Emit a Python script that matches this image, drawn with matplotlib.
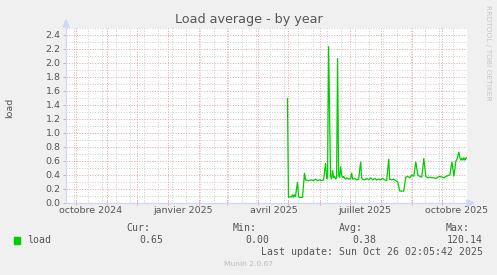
import matplotlib
matplotlib.use("Agg")
import matplotlib.pyplot as plt
import matplotlib.dates as mdates
from matplotlib.patches import Polygon, Rectangle
import pandas as pd

# ---------------- data ----------------
dates = [
    "2025-04-30", "2025-05-01", "2025-05-04", "2025-05-05", "2025-05-06", "2025-05-07",
    "2025-05-08", "2025-05-10", "2025-05-11", "2025-05-12", "2025-05-15", "2025-05-17",
    "2025-05-18", "2025-05-21", "2025-05-24", "2025-05-26", "2025-05-28", "2025-05-30",
    "2025-06-01", "2025-06-03", "2025-06-05", "2025-06-07", "2025-06-08", "2025-06-09",
    "2025-06-10", "2025-06-12", "2025-06-13", "2025-06-14", "2025-06-15", "2025-06-16",
    "2025-06-17", "2025-06-18", "2025-06-19", "2025-06-20", "2025-06-21", "2025-06-22",
    "2025-06-23", "2025-06-24", "2025-06-25", "2025-06-26", "2025-06-27", "2025-06-28",
    "2025-06-30", "2025-07-02", "2025-07-03", "2025-07-04", "2025-07-06", "2025-07-08",
    "2025-07-10", "2025-07-12", "2025-07-13", "2025-07-14", "2025-07-16", "2025-07-18",
    "2025-07-20", "2025-07-22", "2025-07-24", "2025-07-26", "2025-07-28", "2025-07-30",
    "2025-08-01", "2025-08-03", "2025-08-05", "2025-08-07", "2025-08-09", "2025-08-10",
    "2025-08-12", "2025-08-14", "2025-08-16", "2025-08-18", "2025-08-20", "2025-08-24",
    "2025-08-26", "2025-08-28", "2025-08-30", "2025-09-01", "2025-09-03", "2025-09-05",
    "2025-09-07", "2025-09-09", "2025-09-11", "2025-09-13", "2025-09-15", "2025-09-17",
    "2025-09-19", "2025-09-21", "2025-09-23", "2025-09-25", "2025-09-27", "2025-09-29",
    "2025-10-01", "2025-10-03", "2025-10-05", "2025-10-07", "2025-10-09", "2025-10-11",
    "2025-10-13", "2025-10-15", "2025-10-16", "2025-10-18", "2025-10-19", "2025-10-20",
    "2025-10-21", "2025-10-22", "2025-10-23", "2025-10-24", "2025-10-25", "2025-10-26",
]
load_values = [
    1.49, 0.08, 0.09, 0.12, 0.08, 0.12,
    0.09, 0.30, 0.10, 0.08, 0.08, 0.43,
    0.33, 0.32, 0.33, 0.32, 0.34, 0.32,
    0.33, 0.32, 0.33, 0.57, 0.35, 0.36,
    2.24, 0.38, 0.34, 0.47, 0.36, 0.38,
    0.34, 0.36, 2.07, 0.40, 0.36, 0.52,
    0.40, 0.36, 0.38, 0.36, 0.34, 0.36,
    0.34, 0.35, 0.43, 0.34, 0.35, 0.33,
    0.34, 0.59, 0.36, 0.34, 0.33, 0.35,
    0.33, 0.36, 0.33, 0.35, 0.33, 0.34,
    0.33, 0.35, 0.33, 0.32, 0.63, 0.34,
    0.33, 0.34, 0.32, 0.30, 0.17, 0.17,
    0.37, 0.38, 0.36, 0.40, 0.38, 0.59,
    0.40, 0.38, 0.37, 0.64, 0.38, 0.36,
    0.37, 0.36, 0.36, 0.35, 0.37, 0.38,
    0.37, 0.36, 0.38, 0.39, 0.40, 0.59,
    0.38, 0.60, 0.62, 0.73, 0.64, 0.61,
    0.64, 0.61, 0.65, 0.61, 0.64, 0.65,
]
x_labels = ["octobre 2024", "janvier 2025", "avril 2025", "juillet 2025", "octobre 2025"]
x_label_dates = ["2024-10-16", "2025-01-16", "2025-04-16", "2025-07-16", "2025-10-16"]
y_ticks = [0.0, 0.2, 0.4, 0.6, 0.8, 1.0, 1.2, 1.4, 1.6, 1.8, 2.0, 2.2, 2.4]
series_name = "load"
stat_names = ["Cur:", "Min:", "Avg:", "Max:"]
stat_values = ["0.65", "0.00", "0.38", "120.14"]
title = "Load average - by year"
last_update = "Last update: Sun Oct 26 02:05:42 2025"

# ---------------- figure ----------------
W, H = 497, 275
BG = "#F0F0F0"
TXT = "#555555"
GREEN = "#00CC00"
MGRID = "#E2A8A8"
GRID = "#CFCFCF"
AXC = "#CFD6F8"

fig = plt.figure(figsize=(W / 100, H / 100), dpi=100, facecolor=BG)

L, R, T, B = 66, 467, 28, 203
ax = fig.add_axes([L / W, 1 - B / H, (R - L) / W, (B - T) / H])
ax.set_facecolor("white")

def fx(x):
    return x / W

def fy(y):
    return 1 - y / H

x_start = pd.Timestamp("2024-09-21 02:05")
x_end = pd.Timestamp("2025-10-26 02:05")
ax.set_xlim(x_start, x_end)
ax.set_ylim(0, 2.5)

# grid lines (dotted)
dot = (0, (1, 1.6))
gkw = dict(lw=0.72, ls=dot)
for d in pd.date_range("2024-09-29", "2025-10-26", freq="14D"):
    ax.axvline(d, color=GRID, zorder=1, **gkw)
for v in [0.1 + 0.2 * i for i in range(13)]:
    ax.axhline(v, color=GRID, zorder=1, **gkw)
for d in pd.date_range("2024-10-01", "2025-10-01", freq="MS"):
    ax.axvline(d, color=MGRID, zorder=2, **gkw)
for v in y_ticks[1:]:
    ax.axhline(v, color=MGRID, zorder=2, **gkw)

# data
ax.plot(pd.to_datetime(dates), load_values, color=GREEN, lw=0.9, zorder=5,
        solid_joinstyle="miter")

# ticks
ax.set_xticks(pd.date_range("2024-10-01", "2025-10-01", freq="MS"))
ax.set_xticklabels([])
ax.tick_params(axis="x", which="major", length=2.5, width=0.72, color=MGRID, direction="inout")
ax.set_xticks(pd.to_datetime(x_label_dates), minor=True)
ax.set_xticklabels(x_labels, minor=True)
ax.tick_params(axis="x", which="minor", length=0, pad=2.5, labelsize=6.8, labelcolor=TXT)

ax.set_yticks(y_ticks)
ax.set_yticklabels([f"{v:.1f}" for v in y_ticks])
ax.tick_params(axis="y", which="major", length=2.5, width=0.72, color=MGRID, direction="out",
               pad=1.5, labelsize=6.8, labelcolor=TXT)

for s in ["top", "right"]:
    ax.spines[s].set_visible(False)
for s in ["left", "bottom"]:
    ax.spines[s].set_color(AXC)
    ax.spines[s].set_linewidth(0.9)
    ax.spines[s].set_zorder(6)

# axis extensions and arrows
fig.add_artist(plt.Line2D([fx(66), fx(66)], [fy(28), fy(24)], color=AXC, lw=0.9))
fig.add_artist(plt.Line2D([fx(467), fx(469)], [fy(203), fy(203)], color=AXC, lw=0.9))
fig.add_artist(Polygon([[fx(63), fy(27)], [fx(69), fy(27)], [fx(66), fy(20)]],
                       closed=True, color=AXC, transform=fig.transFigure))
fig.add_artist(Polygon([[fx(467), fy(200)], [fx(467), fy(206)], [fx(474), fy(203)]],
                       closed=True, color=AXC, transform=fig.transFigure))

# texts
fig.text(fx(249), fy(20), title, ha="center", va="center", fontsize=9.2, color=TXT)
fig.text(fx(10), fy(108), "load", rotation=90, ha="center", va="center", fontsize=6.8, color=TXT)
fig.text(fx(488), fy(53), "RRDTOOL / TOBI OETIKER", rotation=270, ha="center", va="center",
         fontsize=5.4, color="#C8C8C8")

mono = "DejaVu Sans Mono"
fig.add_artist(Rectangle((fx(13.5), fy(243.5)), 6.5 / W, 6.5 / H, color=GREEN,
                         transform=fig.transFigure))
fig.text(fx(27), fy(240), series_name, ha="left", va="center", fontsize=7.1, color=TXT, family=mono)
name_right = [150, 257, 363, 470]
val_right = [163, 269, 376, 483]
for n, v, xn, xv in zip(stat_names, stat_values, name_right, val_right):
    fig.text(fx(xn), fy(228), n, ha="right", va="center", fontsize=7.1, color=TXT, family=mono)
    fig.text(fx(xv), fy(240), v, ha="right", va="center", fontsize=7.1, color=TXT, family=mono)
fig.text(fx(483), fy(252), last_update, ha="right", va="center", fontsize=7.1, color=TXT, family=mono)
fig.text(fx(248), fy(264), "Munin 2.0.67", ha="center", va="center", fontsize=5.4, color="#BBBBBB")

fig.savefig("out.png", dpi=100, facecolor=BG)
